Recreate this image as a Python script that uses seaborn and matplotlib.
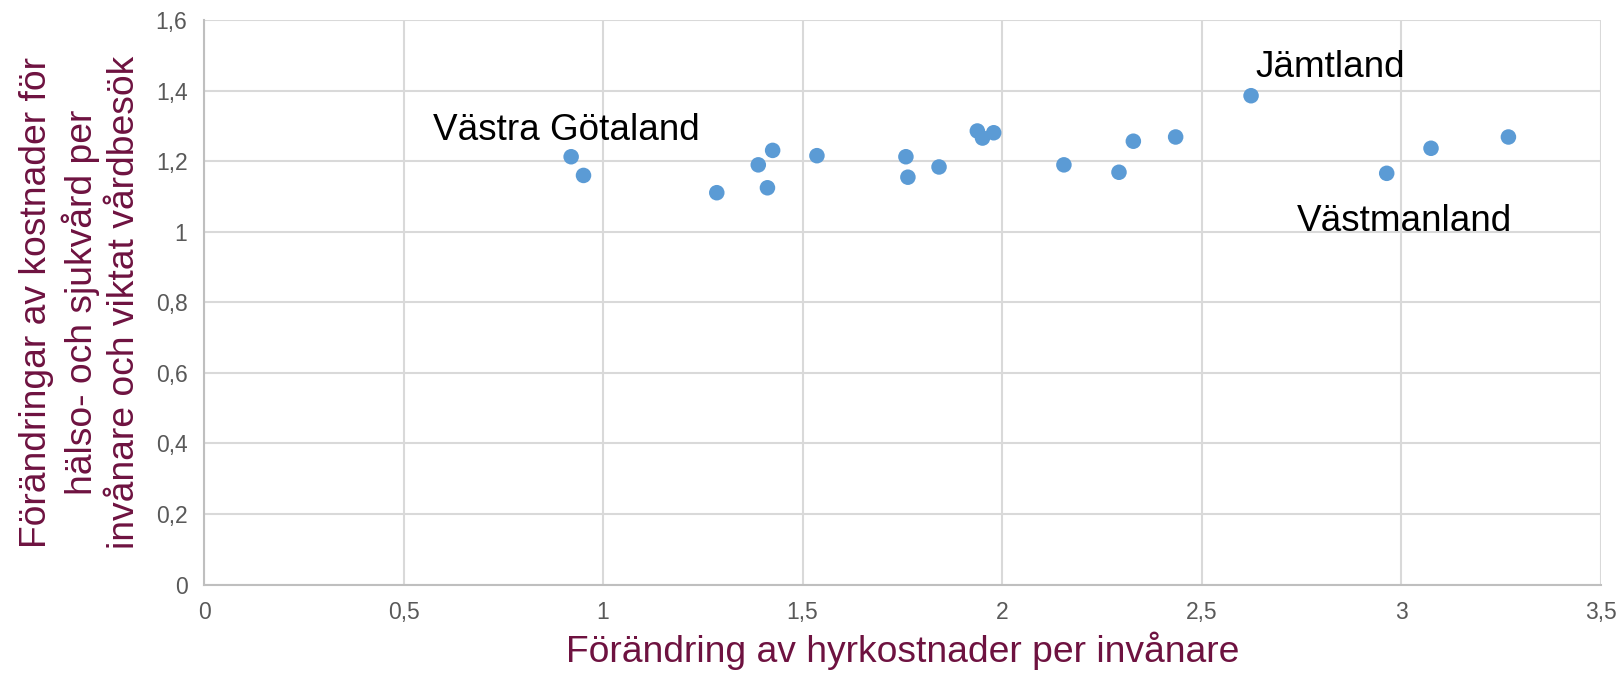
import pandas as pd
import matplotlib.pyplot as plt
import seaborn as sns
from matplotlib.ticker import FuncFormatter, MultipleLocator

# förändring av hyrkostnader per invånare
hyra = [0.92, 0.951, 1.285, 1.389, 1.412, 1.425, 1.536, 1.759, 1.764, 1.842,
        1.938, 1.951, 1.979, 2.155, 2.293, 2.329, 2.435, 2.624, 2.964, 3.075, 3.269]
# förändring av kostnader för hälso- och sjukvård
vard = [1.213, 1.160, 1.111, 1.190, 1.125, 1.231, 1.216, 1.213, 1.155, 1.184,
        1.286, 1.266, 1.281, 1.190, 1.169, 1.257, 1.269, 1.386, 1.166, 1.237, 1.269]

df = pd.DataFrame({'hyra': hyra, 'vard': vard})

sns.set_style('whitegrid')
plt.rcParams['font.family'] = ['Liberation Sans', 'DejaVu Sans']

fig = plt.figure(figsize=(16.22, 6.75), dpi=100)
ax = fig.add_axes([0.1258, 0.134, 0.861, 0.836])

sns.scatterplot(data=df, x='hyra', y='vard', color='#5B9BD5', s=125,
                edgecolor='none', ax=ax, zorder=3)

ax.set_xlim(0, 3.5)
ax.set_ylim(0, 1.6)
ax.xaxis.set_major_locator(MultipleLocator(0.5))
ax.yaxis.set_major_locator(MultipleLocator(0.2))
fmt = FuncFormatter(lambda v, p: ('%g' % round(v, 2)).replace('.', ','))
ax.xaxis.set_major_formatter(fmt)
ax.yaxis.set_major_formatter(fmt)
ax.tick_params(labelsize=16.5, colors='#595959', length=0)
ax.tick_params(axis='x', pad=12)
ax.tick_params(axis='y', pad=12)
ax.grid(color='#d9d9d9', linewidth=1.5)
for side in ['top', 'right']:
    ax.spines[side].set_visible(False)
for side in ['left', 'bottom']:
    ax.spines[side].set_color('#bfbfbf')
    ax.spines[side].set_linewidth(1.5)

label_color = '#6E1240'
ax.set_xlabel('Förändring av hyrkostnader per invånare', fontsize=26.8,
              color=label_color, labelpad=5)
ax.set_ylabel('Förändringar av kostnader för\nhälso- och sjukvård per\ninvånare och viktat vårdbesök',
              fontsize=26.8, color=label_color, labelpad=10, linespacing=1.25,
              multialignment='center')

ax.text(0.573, 1.286, 'Västra Götaland', fontsize=26.6, va='center', ha='left', color='black')
ax.text(2.635, 1.465, 'Jämtland', fontsize=26.6, va='center', ha='left', color='black')
ax.text(2.738, 1.028, 'Västmanland', fontsize=26.6, va='center', ha='left', color='black')

plt.savefig('out.png', dpi=100)
